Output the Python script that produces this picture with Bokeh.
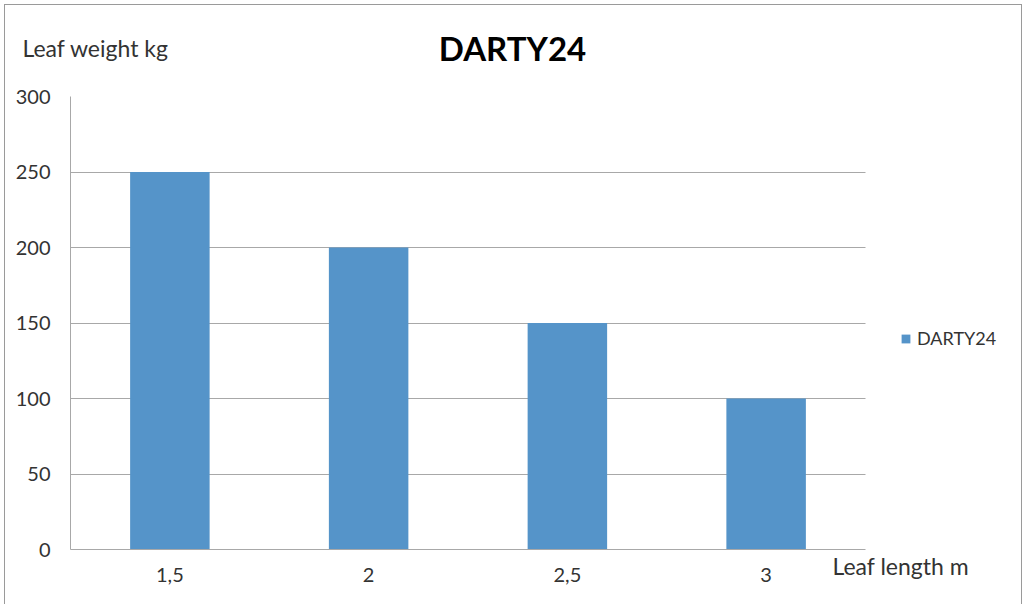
from bokeh.plotting import figure
from bokeh.models import (Range1d, FixedTicker, Label, Legend,
                          LegendItem, ColumnDataSource)
from bokeh.embed import file_html
from bokeh.resources import INLINE

# ---- data ----
categories = ["1,5", "2", "2,5", "3"]
weights = [250, 200, 150, 100]
y_ticks = [0, 50, 100, 150, 200, 250, 300]
series_name = "DARTY24"
title_text = "DARTY24"
y_label = "Leaf weight kg"
x_label = "Leaf length m"

FONT = "Lato"
BAR = "#5594C9"
GRID = "#A8A8A8"
TXT = "#333333"

# layout (pixels)
W, H = 1024, 604
LEFT, TOP, BOTTOM, RIGHT = 70, 95, 55, 16
PLOT_RIGHT = 865                      # where the category area ends
n = len(categories)
x_end = n * (W - RIGHT - LEFT) / (PLOT_RIGHT - LEFT)   # extra room for legend

xs = [i + 0.5 for i in range(n)]      # category centres on the axis scale
src = ColumnDataSource(dict(x=xs, top=weights))

p = figure(width=W, height=H,
           x_range=Range1d(0, x_end), y_range=Range1d(0, 300),
           output_backend="svg", toolbar_location=None,
           min_border_left=LEFT, min_border_right=RIGHT,
           min_border_top=TOP, min_border_bottom=BOTTOM)
p.border_fill_alpha = 0
p.styles = {"box-shadow": ("inset 4px 4px 0 0 #ffffff, inset -2px 0 0 0 #ffffff, "
                           "inset 5px 5px 0 0 #9a9a9a, inset -3px 0 0 0 #9a9a9a")}

r = p.vbar(x="x", top="top", width=0.4, source=src,
           fill_color=BAR, line_color=None)

p.outline_line_color = None
p.xgrid.grid_line_color = None
p.ygrid.grid_line_color = GRID
p.ygrid.grid_line_width = 1
try:
    p.ygrid.cross_bounds = (0, n)
except Exception:
    pass

for ax in (p.xaxis[0], p.yaxis[0]):
    ax.major_tick_in = 0
    ax.major_tick_out = 0
    ax.minor_tick_in = 0
    ax.minor_tick_out = 0
    ax.axis_line_color = GRID
    ax.major_label_text_font = FONT
    ax.major_label_text_font_size = "20px"
    ax.major_label_text_color = TXT

p.yaxis.ticker = FixedTicker(ticks=y_ticks)
p.yaxis.major_label_standoff = 20
p.xaxis.ticker = FixedTicker(ticks=xs)
p.xaxis.major_label_overrides = {x: c for x, c in zip(xs, categories)}
p.xaxis.bounds = (0, n)
p.xaxis.major_label_standoff = 18

# texts stacked in the top side panel (not clipped there)
p.add_layout(Label(x=442, y=49, x_units="screen", y_units="screen",
                   text=title_text, text_font=FONT, text_font_size="33px",
                   text_font_style="bold", text_align="center",
                   text_baseline="middle", text_color="black"), "above")
p.add_layout(Label(x=-48, y=9, x_units="screen", y_units="screen",
                   text=y_label, text_font=FONT, text_font_size="23px",
                   text_align="left", text_baseline="middle", text_color=TXT), "above")
p.add_layout(Label(x=762, y=-537, x_units="screen", y_units="screen",
                   text=x_label, text_font=FONT, text_font_size="23px",
                   text_align="left", text_baseline="middle", text_color=TXT), "above")

legend = Legend(items=[LegendItem(label=series_name, renderers=[r])],
                location=(830, 200))
legend.padding = 0
legend.margin = 0
legend.spacing = 0
legend.glyph_width = 11
legend.glyph_height = 11
legend.label_height = 11
legend.label_standoff = 6
legend.label_text_font = FONT
legend.label_text_font_size = "18px"
legend.label_text_color = TXT
legend.label_text_baseline = "middle"
legend.border_line_alpha = 0
legend.background_fill_alpha = 0
p.add_layout(legend)

open("out.html", "w").write(file_html(p, INLINE))
